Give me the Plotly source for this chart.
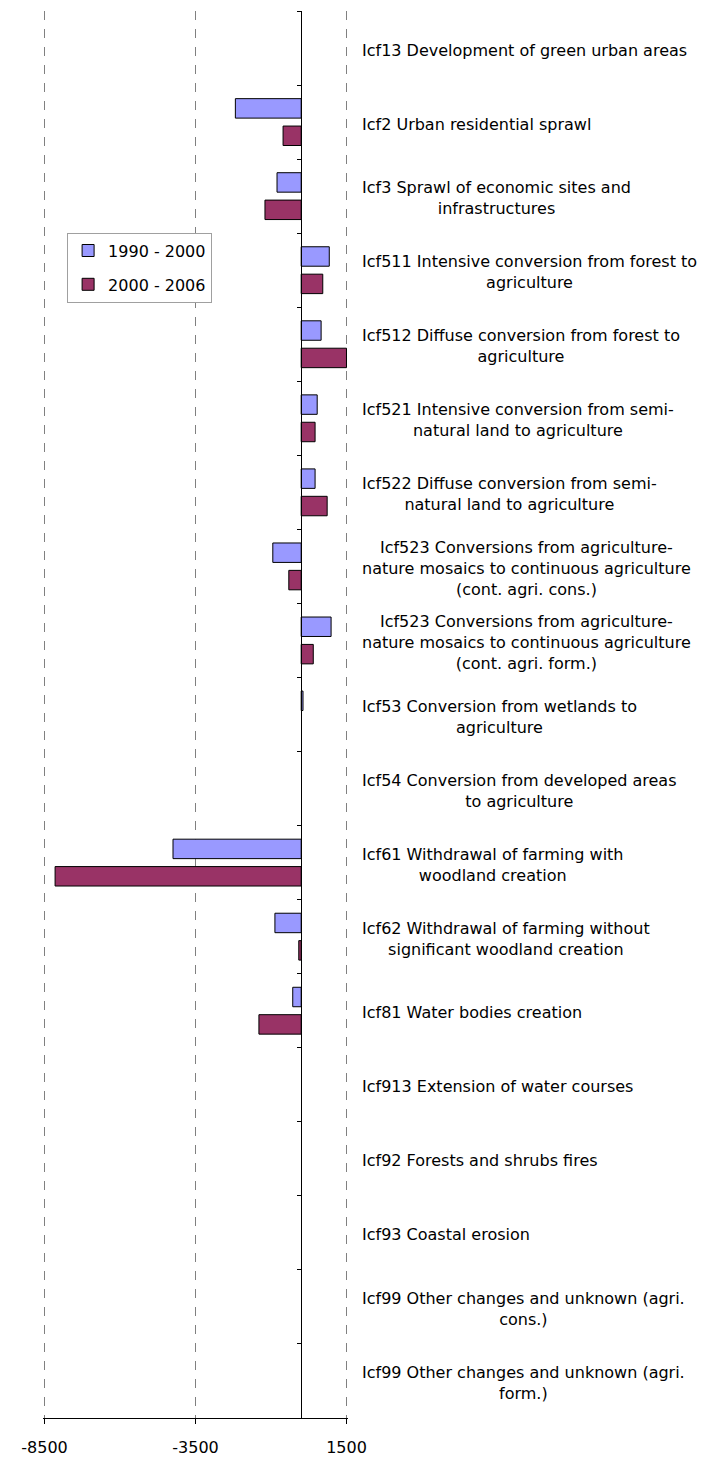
import plotly.graph_objects as go

# land cover flows, net change (ha)
categories = [
    "Icf13 Development of green urban areas",
    "Icf2 Urban residential sprawl",
    "Icf3 Sprawl of economic sites and<br>infrastructures",
    "Icf511 Intensive conversion from forest to<br>agriculture",
    "Icf512 Diffuse conversion from forest to<br>agriculture",
    "Icf521 Intensive conversion from semi-<br>natural land to agriculture",
    "Icf522 Diffuse conversion from semi-<br>natural land to agriculture",
    "Icf523 Conversions from agriculture-<br>nature mosaics to continuous agriculture<br>(cont. agri. cons.)",
    "Icf523 Conversions from agriculture-<br>nature mosaics to continuous agriculture<br>(cont. agri. form.)",
    "Icf53 Conversion from wetlands to<br>agriculture",
    "Icf54 Conversion from developed areas<br>to agriculture",
    "Icf61 Withdrawal of farming with<br>woodland creation",
    "Icf62 Withdrawal of farming without<br>significant woodland creation",
    "Icf81 Water bodies creation",
    "Icf913 Extension of water courses",
    "Icf92 Forests and shrubs fires",
    "Icf93 Coastal erosion",
    "Icf99 Other changes and unknown (agri.<br>cons.)",
    "Icf99 Other changes and unknown (agri.<br>form.)",
]
v_1990_2000 = [None, -2180, -800, 930, 660, 530, 460, -940, 990, 60, None,
               -4245, -870, -280, None, None, None, None, None]
v_2000_2006 = [None, -600, -1200, 715, 1500, 460, 860, -410, 400, None, None,
               -8150, -80, -1400, None, None, None, None, None]
tick_vals = [-8500, -3500, 1500]
tick_text = ["-8500", "-3500", "1500"]

font = "DejaVu Sans"
x_range = [-8550, 1550]  # a little padding so the edge gridlines are drawn
zero_pos = -x_range[0] / (x_range[1] - x_range[0])

fig = go.Figure()
fig.add_trace(go.Bar(y=categories, x=v_1990_2000, orientation="h", name="1990 - 2000",
                     legendgroup="a",
                     marker=dict(color="#9999FF", line=dict(color="#000000", width=1))))
fig.add_trace(go.Bar(y=categories, x=v_2000_2006, orientation="h", name="2000 - 2006",
                     legendgroup="b",
                     marker=dict(color="#993366", line=dict(color="#000000", width=1))))

# category labels sit to the right of the plot, centred line by line
for c in categories:
    fig.add_annotation(x=1.0387, xref="paper", y=c, yref="y", text=c,
                       showarrow=False, xanchor="left", yanchor="middle", yshift=-2,
                       align="center", font=dict(family=font, size=16, color="#000000"))

fig.update_layout(
    width=710, height=1461,
    margin=dict(l=34.8, r=369.8, t=3.4, b=50.7),
    plot_bgcolor="white", paper_bgcolor="white",
    barmode="group", bargap=0.26, bargroupgap=0.29,
    showlegend=True,
    legend=dict(x=0.079, y=0.8425, xanchor="left", yanchor="top",
                bgcolor="white", bordercolor="#a0a0a0", borderwidth=1,
                itemwidth=30, tracegroupgap=10,
                font=dict(family=font, size=16, color="#000000")),
    xaxis=dict(range=x_range, tickvals=tick_vals, ticktext=tick_text,
               showgrid=True, automargin=False,
               gridcolor="#808080", griddash="dash", gridwidth=1,
               zeroline=False, showline=True, linecolor="#000000", linewidth=1,
               ticks="outside", ticklen=5, tickcolor="#000000",
               ticklabelstandoff=10,
               tickfont=dict(family=font, size=16, color="#000000")),
    yaxis=dict(autorange="reversed", showticklabels=False, showgrid=False,
               automargin=False,
               anchor="free", position=zero_pos, showline=True, linecolor="#000000",
               linewidth=1, ticks="outside", tickson="boundaries", ticklen=4,
               tickcolor="#000000"),
)

fig.write_html("out.html")
